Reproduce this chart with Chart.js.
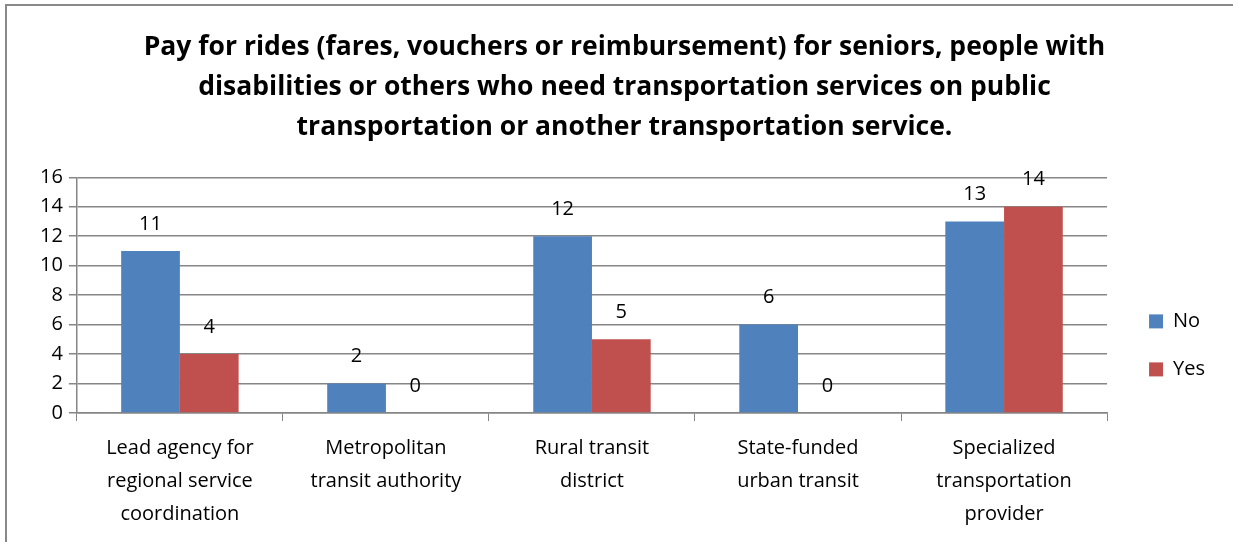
<!DOCTYPE html>
<html>
<head>
<meta charset="utf-8">
<script src="https://cdn.jsdelivr.net/npm/chart.js@4/dist/chart.umd.min.js"></script>
<style>
  body { margin: 0; background: #fff; }
  #wrap { position: relative; width: 1233px; height: 542px; }
  #frame { position: absolute; left: 5px; top: 4px; right: -10px; bottom: -10px;
           border-left: 2px solid #898989; border-top: 2px solid #898989; pointer-events: none; }
</style>
</head>
<body>
<div id="wrap">
  <canvas id="grafico" width="1233" height="542"></canvas>
  <div id="frame"></div>
</div>
<script>
let categorias = [
    ['Lead agency for', 'regional service', 'coordination'],
    ['Metropolitan', 'transit authority'],
    ['Rural transit', 'district'],
    ['State-funded', 'urban transit'],
    ['Specialized', 'transportation', 'provider']
];
let dataNo = [11, 2, 12, 6, 13];
let dataYes = [4, 0, 5, 0, 14];
let titulo = [
    'Pay for rides (fares, vouchers or reimbursement) for seniors, people with',
    'disabilities or others who need transportation services on public',
    'transportation or another transportation service.'
];

const fuente = '"Open Sans", sans-serif';

// etiquetas encima de cada barra
const etiquetas = {
    id: 'etiquetas',
    afterDatasetsDraw(chart) {
        let ctx = chart.ctx;
        ctx.save();
        ctx.font = '20px ' + fuente;
        ctx.fillStyle = '#000';
        ctx.textAlign = 'center';
        ctx.textBaseline = 'middle';
        chart.data.datasets.forEach((ds, i) => {
            let meta = chart.getDatasetMeta(i);
            meta.data.forEach((bar, j) => {
                ctx.fillText(ds.data[j], bar.x, bar.y - 27);
            });
        });
        ctx.restore();
    }
};

new Chart(document.getElementById('grafico'), {
    type: 'bar',
    data: {
        labels: categorias,
        datasets: [{
            label: 'No',
            data: dataNo,
            backgroundColor: '#4F81BD',
            categoryPercentage: 0.57,
            barPercentage: 1
        }, {
            label: 'Yes',
            data: dataYes,
            backgroundColor: '#C0504D',
            categoryPercentage: 0.57,
            barPercentage: 1
        }]
    },
    options: {
        responsive: false,
        animation: false,
        layout: { padding: { top: 28, left: 34, right: 18, bottom: 0 } },
        plugins: {
            title: {
                display: true,
                text: titulo,
                color: '#000',
                font: { family: fuente, size: 26.5, weight: 'bold', lineHeight: 1.5 },
                padding: { top: 0, bottom: 30 }
            },
            legend: {
                position: 'right',
                title: { display: true, text: ' ', font: { size: 4 }, padding: { top: 0, bottom: 116 } },
                labels: {
                    color: '#000',
                    font: { family: fuente, size: 20 },
                    boxWidth: 14,
                    boxHeight: 14,
                    padding: 28
                }
            },
            tooltip: { enabled: false }
        },
        scales: {
            x: {
                grid: { display: true, drawOnChartArea: false, color: '#868686', tickLength: 8, offset: true },
                border: { color: '#868686', width: 1.5 },
                ticks: { color: '#000', font: { family: fuente, size: 20, lineHeight: 1.65 }, maxRotation: 0, autoSkip: false, padding: 11 }
            },
            y: {
                min: 0,
                max: 16,
                ticks: { stepSize: 2, color: '#000', font: { family: fuente, size: 20 }, padding: 6 },
                grid: { color: '#868686', lineWidth: 1.5, tickLength: 8 },
                border: { color: '#868686', width: 1.5 }
            },
            // eje vacio solo para dejar hueco antes de la leyenda
            hueco: {
                position: 'right',
                display: true,
                grid: { display: false },
                border: { display: false },
                ticks: { display: false },
                afterFit: (scale) => { scale.width = 14; }
            }
        }
    },
    plugins: [etiquetas]
});
</script>
</body>
</html>
